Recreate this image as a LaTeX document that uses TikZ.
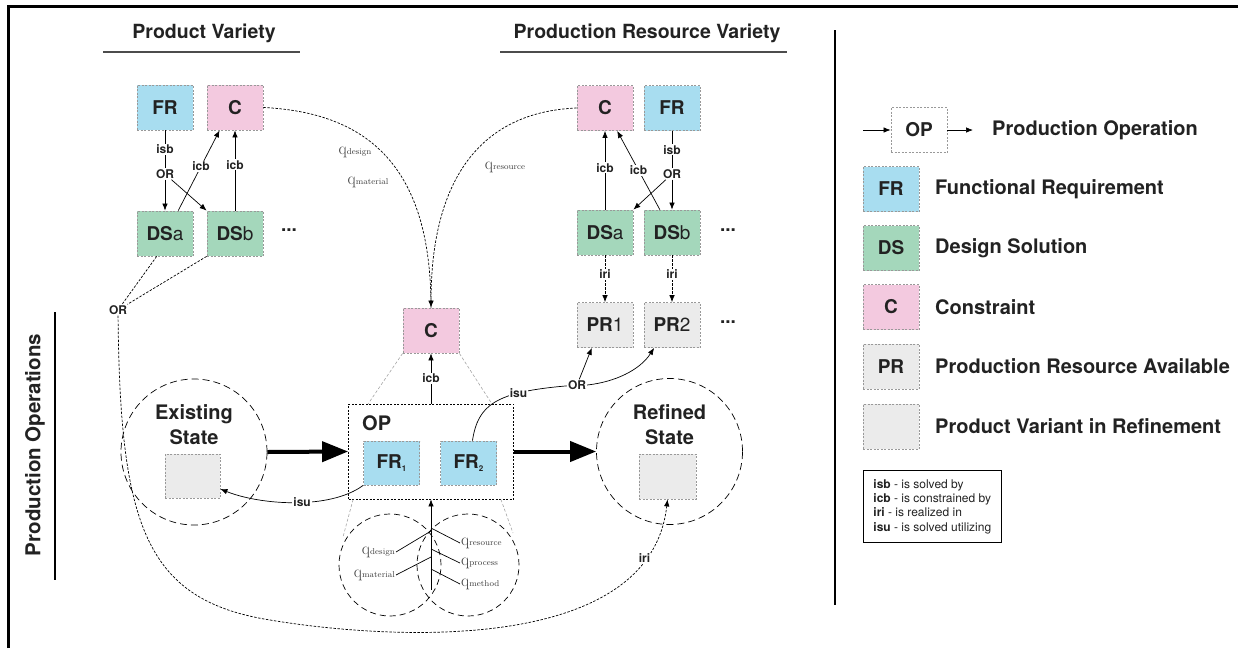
\documentclass[tikz,border=0pt]{standalone}
\usepackage{fontspec}
\setmainfont{TeX Gyre Heros}
\newfontfamily\qfont{Latin Modern Roman}
\usetikzlibrary{arrows.meta}

\definecolor{frblue}{HTML}{A8DDF0}
\definecolor{dsgreen}{HTML}{A4D7BB}
\definecolor{cpink}{HTML}{F3C9DF}
\definecolor{prgray}{HTML}{EBEBEB}
\definecolor{ink}{HTML}{222222}

\tikzset{
  box/.style={draw=black!40, dash pattern=on 2pt off 1.5pt, line width=0.8pt,
    minimum width=56pt, minimum height=45pt, inner sep=0pt, text=ink,
    font=\bfseries\fontsize{19}{19}\selectfont},
  frbox/.style={box, fill=frblue},
  dsbox/.style={box, fill=dsgreen},
  cbox/.style={box, fill=cpink},
  prbox/.style={box, fill=prgray},
  lbl/.style={fill=white, inner sep=1pt, text=ink, font=\bfseries\fontsize{12}{12}\selectfont},
  link/.style={line width=0.7pt, -{Latex[length=7pt,width=5.5pt]}},
  thinline/.style={line width=0.7pt},
  dotline/.style={line width=0.7pt, dash pattern=on 2.5pt off 1.5pt},
  state/.style={circle, draw, line width=0.7pt, dash pattern=on 7pt off 4pt,
    minimum size=146pt, inner sep=0pt},
  qcirc/.style={circle, draw, line width=0.7pt, dash pattern=on 6pt off 4pt,
    minimum size=102pt, inner sep=0pt},
  bigarrow/.style={line width=4pt, -{Triangle[length=26pt,width=20pt]}},
  statetxt/.style={align=center, text=ink, font=\bfseries\fontsize{20}{25}\selectfont},
  title/.style={text=ink, font=\bfseries\fontsize{19.5}{19.5}\selectfont},
  lgtext/.style={anchor=west, inner sep=0pt, text=ink, font=\bfseries\fontsize{20}{20}\selectfont},
  dotsnode/.style={text=ink, font=\bfseries\fontsize{19}{19}\selectfont},
  qlbl/.style={inner sep=1pt, text=black!75, font=\qfont\fontsize{17}{17}\selectfont},
  zoomline/.style={draw=black!35, line width=0.6pt, dash pattern=on 3pt off 2pt}
}
\newcommand{\qsub}[1]{q{\fontsize{8.5}{8.5}\selectfont #1}}

\begin{document}
\begin{tikzpicture}[x=1pt, y=-1pt]
  \useasboundingbox (0,0) rectangle (1238,648);

  % frame and dividers
  \draw[line width=3pt] (8,648) -- (8,6) -- (1238,6);
  \draw[line width=2pt] (835,30) -- (835,605);
  \draw[line width=1.5pt] (55,312) -- (55,580);
  \node[title, rotate=90, font=\bfseries\fontsize{20.5}{20.5}\selectfont] (prodops) at (35,445) {Production Operations};

  % titles
  \node[title] (tpv) at (204,33) {Product Variety};
  \node[title] (tprv) at (647,33) {Production Resource Variety};
  \draw[line width=2pt, black!70] (103,52) -- (300,52);
  \draw[line width=2pt, black!70] (500,52) -- (787,52);

  % product variety
  \node[frbox] (frL) at (165,107.5) {FR};
  \node[cbox] (cL) at (235,107.5) {C};
  \node[dsbox] (dsaL) at (165,233.5) {DS{\mdseries a}};
  \node[dsbox] (dsbL) at (235,233.5) {DS{\mdseries b}};
  \node[dotsnode] (dotsL) at (289,230) {...};
  \node[lbl] (orL) at (165,174) {OR};
  \draw[thinline] (frL) -- node[lbl] {isb} (orL);
  \draw[link] (orL) -- (dsaL);
  \draw[link] (orL) -- (dsbL.north west);
  \draw[link] (dsaL.60) -- node[lbl, pos=0.55] {icb} (cL.236);
  \draw[link] (dsbL) -- node[lbl, pos=0.57] {icb} (cL);

  % production resource variety
  \node[cbox] (cR) at (605,108) {C};
  \node[frbox] (frR) at (672,108) {FR};
  \node[dsbox] (dsaR) at (605,232.5) {DS{\mdseries a}};
  \node[dsbox] (dsbR) at (672,232.5) {DS{\mdseries b}};
  \node[dotsnode] (dotsR) at (728,230) {...};
  \node[prbox] (pr1) at (605,325) {PR{\mdseries 1}};
  \node[prbox] (pr2) at (672,325) {PR{\mdseries 2}};
  \node[dotsnode] (dotsP) at (728,322) {...};
  \node[lbl] (orRt) at (672,174) {OR};
  \draw[thinline] (frR) -- node[lbl] {isb} (orRt);
  \draw[link] (orRt) -- (dsbR);
  \draw[link] (orRt) -- (dsaR.north east);
  \draw[link] (dsaR) -- node[lbl, pos=0.53] {icb} (cR);
  \draw[link] (dsbR.118) -- node[lbl, pos=0.5] {icb} (cR.298);
  \draw[link, dash pattern=on 2.5pt off 1.5pt] (dsaR) -- node[lbl, pos=0.4] {iri} (pr1);
  \draw[link, dash pattern=on 2.5pt off 1.5pt] (dsbR) -- node[lbl, pos=0.4] {iri} (pr2);

  % operation
  \node[cbox] (cM) at (431,330.5) {C};
  \node[box, draw=black, minimum width=165pt, minimum height=95pt] (op) at (431,451.5) {};
  \node[lgtext] (oplbl) at (362,423) {OP};
  \node[frbox, minimum height=44pt] (fr1) at (391.5,463) {FR\raisebox{-3pt}{\fontsize{8}{8}\selectfont 1}};
  \node[frbox, minimum height=44pt] (fr2) at (468.5,463) {FR\raisebox{-3pt}{\fontsize{8}{8}\selectfont 2}};
  \draw[link] (op) -- node[lbl] {icb} (cM);
  \coordinate (zl) at (368,404);
  \coordinate (zr) at (492,404);
  \draw[zoomline] (cM.south west) -- (zl);
  \draw[zoomline] (cM.south east) -- (zr);

  % states
  \node[state] (exist) at (194,452) {};
  \node[statetxt] (existlbl) at (194,424.5) {Existing\\State};
  \node[prbox, minimum width=55pt, minimum height=44pt] (exbox) at (192.5,476) {};
  \node[state] (refined) at (669.5,451.5) {};
  \node[statetxt] (refinedlbl) at (669.5,424.5) {Refined\\State};
  \node[prbox, minimum width=57pt, minimum height=45pt] (refbox) at (667.5,476.5) {};
  \draw[bigarrow] (exist.east) -- (op.west);
  \draw[bigarrow] (op.east) -- (refined.west);

  % isu links
  \draw[link] (fr1.south west) .. controls (330,510) and (260,505) .. node[lbl, pos=0.45] {isu} (exbox.-25);
  \node[lbl] (orR) at (577,385) {OR};
  \draw[thinline] (fr2.80) .. controls (478,405) and (495,392) .. node[lbl, pos=0.72] {isu} (orR);
  \draw[link] (orR) -- (pr1.240);
  \draw[link] (orR.east) .. controls (615,382) and (640,370) .. (pr2.232);

  % constraint paths
  \node[qlbl] (qdL) at (355,152) {\qsub{design}};
  \node[qlbl] (qmL) at (368,182) {\qsub{material}};
  \node[qlbl] (qrR) at (505,167) {\qsub{resource}};
  \draw[dotline] (cL.east) .. controls (380,113) and (431,180) .. (cM.north);
  \draw[dotline, -{Latex[length=7pt,width=5.5pt]}] (cR.west) .. controls (480,112) and (431,180) .. (cM.north);

  % dashed OR path to refined state
  \node[lbl] (orLow) at (118,310) {OR};
  \draw[dotline] (dsaL.250) -- (orLow);
  \draw[dotline] (dsbL.south west) -- (orLow);
  \draw[dotline] (orLow) .. controls (120,525) and (145,600) .. (270,620);
  \draw[dotline, -{Latex[length=7pt,width=5.5pt]}] (270,620) .. controls (390,640) and (650,655) .. node[lbl, pos=0.85] {iri} (refbox.south);

  % parameter circles
  \node[qcirc] (qa) at (390,565) {};
  \node[qcirc] (qb) at (468,565) {};
  \coordinate (zbl) at (343,537);
  \coordinate (zbr) at (513,533);
  \draw[zoomline] (op.south west) ++(5,0) -- (zbl);
  \draw[zoomline] (op.south east) ++(-13,0) -- (zbr);
  \coordinate (qbase) at (431,590);
  \draw[link] (qbase) -- (op.south);
  \coordinate (qs1) at (431,528);
  \coordinate (qs2) at (431,531);
  \coordinate (qs3) at (431,549);
  \coordinate (qs4) at (431,557);
  \coordinate (qs5) at (431,569);
  \node[qlbl, anchor=east] (qd) at (396,552) {\qsub{design}};
  \node[qlbl, anchor=east] (qm) at (396,575) {\qsub{material}};
  \node[qlbl, anchor=west] (qr) at (460,543) {\qsub{resource}};
  \node[qlbl, anchor=west] (qp) at (460,563) {\qsub{process}};
  \node[qlbl, anchor=west] (qmt) at (460,584) {\qsub{method}};
  \draw[thinline] (qd.east) -- (qs2);
  \draw[thinline] (qm.east) -- (qs4);
  \draw[thinline] (qs1) -- (qr.west);
  \draw[thinline] (qs3) -- (qp.west);
  \draw[thinline] (qs5) -- (qmt.west);

  % legend
  \coordinate (lgin) at (863,130);
  \coordinate (lgout) at (973,130);
  \node[box] (lgop) at (919,130) {OP};
  \draw[link] (lgin) -- (lgop);
  \draw[link] (lgop) -- (lgout);
  \node[lgtext] (lgopt) at (992,130) {Production Operation};
  \node[frbox] (lgfr) at (891,189) {FR};
  \node[lgtext] (lgfrt) at (935,189) {Functional Requirement};
  \node[dsbox] (lgds) at (891,248) {DS};
  \node[lgtext] (lgdst) at (935,248) {Design Solution};
  \node[cbox] (lgc) at (891,307) {C};
  \node[lgtext] (lgct) at (935,307) {Constraint};
  \node[prbox] (lgpr) at (891,366.5) {PR};
  \node[lgtext] (lgprt) at (935,366.5) {Production Resource Available};
  \node[prbox] (lgpv) at (891,426.5) {};
  \node[lgtext] (lgpvt) at (935,426.5) {Product Variant in Refinement};
  \node[draw, line width=0.8pt, anchor=north west, align=left, inner xsep=10pt,
    minimum height=72pt, text=ink, font=\fontsize{12}{14.3}\selectfont] (abbr) at (863,470)
    {\textbf{isb} - is solved by\\ \textbf{icb} - is constrained by\\
     \textbf{iri} - is realized in\\ \textbf{isu} - is solved utilizing};
\end{tikzpicture}
\end{document}
